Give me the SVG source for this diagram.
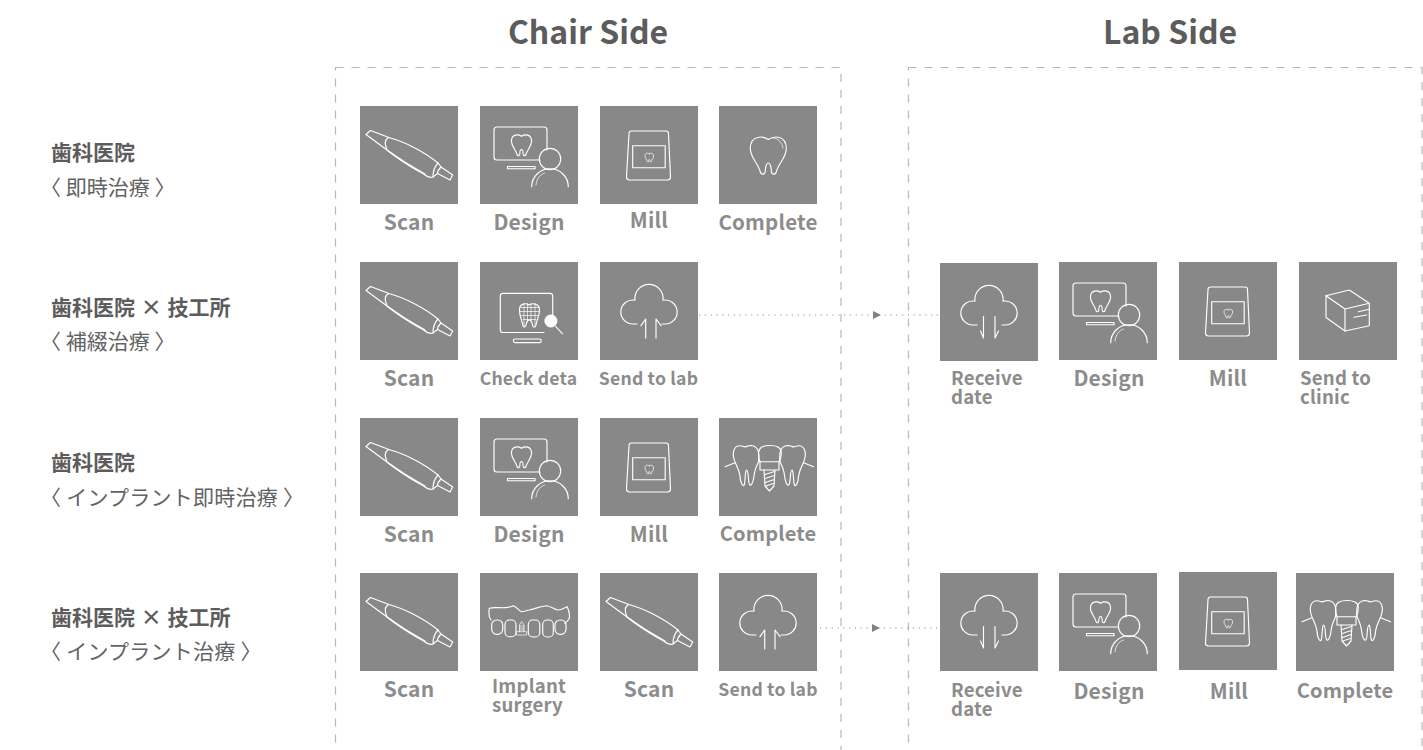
<svg xmlns="http://www.w3.org/2000/svg" width="1423" height="750" viewBox="0 0 1423 750">
<style>
text{font-family:"Noto Sans CJK JP","Noto Sans",sans-serif}
.title{font-size:32px;font-weight:700;fill:#5c5c5c;text-anchor:middle}
.rowb{font-size:21px;font-weight:700;fill:#5c5c5c;word-spacing:1px}
.rowr{font-size:21px;font-weight:400;fill:#636363}
.wide{letter-spacing:.25px}
.l{font-size:21px;font-weight:700;fill:#8c8c8c;text-anchor:middle;letter-spacing:.2px}
.s{font-size:17.6px;font-weight:700;fill:#8c8c8c;text-anchor:middle;letter-spacing:.2px}
.m{font-size:18.6px;font-weight:700;fill:#8c8c8c;letter-spacing:.2px}
.c{font-size:20px;font-weight:700;fill:#8c8c8c;text-anchor:middle;letter-spacing:.2px}
.tile{fill:#888}
.ic{fill:none;stroke:#fff;stroke-width:1.15;stroke-linecap:round;stroke-linejoin:round}
.thin{stroke-width:.7}
.frame{fill:none;stroke:#b8b8b8;stroke-width:1.2;stroke-dasharray:8 8}
.dot{fill:none;stroke:#8c8c8c;stroke-width:1.2;stroke-dasharray:1.2 4.6}
</style>
<defs>
<marker id="tri" markerUnits="userSpaceOnUse" markerWidth="9" markerHeight="9" refX="4" refY="4.5" orient="auto"><path d="M0,.5 L8,4.5 L0,8.5Z" fill="#808080"/></marker>
<path id="tooth" d="M0,-15.500 C-5,-19 -18,-20.500 -18,-6.500 C-18,3 -10,8 -8,17 C-7,20 -3,20 -3,15.500 C-3,10 -1,8 0,8 C1,8 3,10 3,15.500 C3,20 7,20 8,17 C10,8 18,3 18,-6.500 C18,-20.500 5,-19 0,-15.500Z"/>
<g id="i-scan" class="ic">
<path d="M6,28.500 L10.500,24.500 L29,31.500 C46,36 66,47 78,57 L81,61 L92.700,69 L90,74 L77.500,67.500 L73,71 C70,72 66,70 63,67.500 C52,62 34,50 27,44 L6,28.500Z"/>
<path d="M29,31.500 C25,33 24,37 27,44 C38,52 54,62 65,68"/>
<path d="M78,57 C75,60 73,65 73,71 M81,61 C79,63 77.500,65 77.500,67.500"/>
</g>
<g id="i-design" class="ic">
<path d="M60,54 H17 Q14,54 14,51 V24 Q14,21 17,21 H64 Q67,21 67,24 V44"/>
<use href="#tooth" transform="translate(41.500,39) scale(.56)" stroke-width="2"/>
<rect x="27.500" y="60.500" width="27.500" height="2.200"/>
<circle cx="70" cy="53" r="10.700"/>
<path d="M51.700,80.700 A18.300,18 0 0 1 88.300,80.700"/>
<path d="M56,79 C56.500,73 60,68.500 64.500,67" class="thin"/>
</g>
<g id="i-mill" class="ic">
<path d="M31.500,25 H66 Q68.500,25 68.500,27.500 L70.500,71 Q70.500,74 67.500,74 H29.500 Q26.500,74 26.500,71 L29,27.500 Q29,25 31.500,25Z"/>
<rect x="32.700" y="39.700" width="32.500" height="22"/>
<use href="#tooth" transform="translate(49.300,51.500) scale(.24)" stroke-width="3"/>
</g>
<g id="i-tooth" class="ic">
<use href="#tooth" transform="translate(49.300,49)"/>
<path d="M53,32 C57,31.500 63,35 64,42" class="thin"/>
</g>
<g id="i-check" class="ic">
<path d="M64,70.500 H23 Q20.300,70.500 20.300,68 V34 Q20.300,31.400 23,31.400 H70 Q72.700,31.400 72.700,34 V53"/>
<rect x="33.300" y="77" width="28" height="3.600" rx="1.800"/>
<circle cx="70.900" cy="59" r="6.500" fill="#fff" stroke="none"/>
<path d="M75.800,64.700 L82.400,71.600"/>
<path d="M49,43 C46,41 39.500,41 39.500,48 C39.500,55 42,58 43,64 C44,66 46,65 46.500,61 C47,58 48.500,58 49.500,58 C50.500,58 52,60 52.500,63 C53,66 55,66 56,63 C57,57 59.500,54 59.500,48 C59.500,41 52,41 49,43Z"/>
<path d="M40,45.500 H59 M40,49.500 H59 M41,53.500 H58 M43,57.500 H56 M44,41.500 V64 M47.500,41.500 V60 M51,41.500 V60 M55,41.500 V64" class="thin"/>
</g>
<path id="cloud" d="M37,62 H33 A12,12 0 1 1 35,38.200 A14.100,14.100 0 1 1 63,38.200 A12,12 0 1 1 65,62 H62"/>
<g id="i-up" class="ic">
<use href="#cloud"/>
<path d="M45.700,76 V57 L41,63.700 M56,76 V57 L61,63.700"/>
</g>
<g id="i-down" class="ic">
<use href="#cloud"/>
<path d="M43.500,53.500 V75 L40.500,68 M55,53.500 V75 L58.500,68"/>
</g>
<g id="i-box" class="ic">
<path d="M27,33.700 L50.300,28 L70.300,41.300 V63.700 L46,69 L27,55.500Z"/>
<path d="M27,33.700 L46,47 L70.300,41.300 M46,47 V69 M59.300,49.700 L70.300,47.300 M55,55.300 L67.700,53"/>
</g>
<g id="i-implant" class="ic">
<path id="sidetooth" d="M39.500,44 C40.500,36 40,28 32,27.500 C29,27.500 28,28.500 26,29 C24,28.500 22,27 19,28 C14,29.500 14,36 14.500,39 C16,47 20,50 21,58 C21.500,66 24.500,70 25.500,66 C26.500,60 26,53 27.500,52 C29.500,52 29,60 30,65 C31,70 34,66 35,58 C35.500,53 37,49 39.500,44Z M6,48.700 L16,44.700"/>
<use href="#sidetooth" transform="translate(100.600,0) scale(-1,1)"/>
<path d="M41,43.700 C38.500,37 39,31 43,29 C47,27 55,27 59,29 C63,31 63.500,37 60,43.700"/>
<rect x="41" y="43.700" width="19" height="8.300"/>
<path d="M45,52 L46,68 L50.500,73 L55,68 L56,52 M46,56.500 L55.500,53.500 M46,60.500 L55.500,57.500 M46.500,64.500 L55,61.500 M47,68 L54,65.500"/>
</g>
<g id="i-surgery" class="ic">
<path d="M11,47 C8.500,44 8.500,40 9.300,35.300 C16,33 24,37 33.300,32.700 C37,34 39,38 41.700,38.700 C44,38.700 46,37.500 49.300,37 C55,36 60,33 66.700,32.700 C71,33 74,37 78.300,37 C82,37 84,35 87.300,33.700 C89,38 90,42 89.300,45.300 C88.500,47 87,49 85,50.300"/>
<rect x="11.700" y="47" width="11" height="14.300" rx="5"/>
<rect x="25" y="47" width="11" height="16.700" rx="4.500"/>
<rect x="48.300" y="47" width="11.500" height="17" rx="4.500"/>
<rect x="62.700" y="47" width="10.600" height="17" rx="4.500"/>
<rect x="75" y="47" width="11" height="14.300" rx="5"/>
<rect x="36.700" y="58.700" width="10" height="3.300" class="thin"/>
<path d="M39.500,58.700 V52 L41.700,48.500 L44,52 V58.700 M39.500,53 H44 M39.500,55 H44 M39.500,57 H44" class="thin"/>
</g>
</defs>

<g id="headers">
<text class="title" x="588" y="44">Chair Side</text>
<text class="title" x="1170" y="44">Lab Side</text>
</g>
<g id="frames">
<rect class="frame" x="335.500" y="67.500" width="505.500" height="720"/>
<rect class="frame" x="908.500" y="67.500" width="513.500" height="720"/>
</g>

<g id="row-1"><text class="rowb" x="51" y="160">歯科医院</text><text class="rowr" x="40" y="195">〈 即時治療 〉</text></g>
<g id="row-2"><text class="rowb" x="51" y="315">歯科医院 × 技工所</text><text class="rowr" x="40" y="349">〈 補綴治療 〉</text></g>
<g id="row-3"><text class="rowb" x="51" y="470">歯科医院</text><text class="rowr wide" x="40" y="505">〈 インプラント即時治療 〉</text></g>
<g id="row-4"><text class="rowb" x="51" y="625">歯科医院 × 技工所</text><text class="rowr wide" x="40" y="659">〈 インプラント治療 〉</text></g>

<g id="connectors">
<polyline class="dot" points="699,315 877,315 940,315" marker-mid="url(#tri)"/>
<polyline class="dot" points="820,628 876,628 939,628" marker-mid="url(#tri)"/>
</g>

<g id="n1-scan"><rect class="tile" x="360" y="106" width="98" height="98"/><use href="#i-scan" x="360" y="106"/><text class="l" x="409" y="230">Scan</text></g>
<g id="n1-design"><rect class="tile" x="480" y="106" width="98" height="98"/><use href="#i-design" x="480" y="106"/><text class="l" x="529" y="230">Design</text></g>
<g id="n1-mill"><rect class="tile" x="600" y="106" width="98" height="98"/><use href="#i-mill" x="600" y="106"/><text class="l" x="649" y="228">Mill</text></g>
<g id="n1-complete"><rect class="tile" x="719" y="106" width="98" height="98"/><use href="#i-tooth" x="719" y="106"/><text class="l" x="768" y="230" style="font-size:20.500px">Complete</text></g>

<g id="n2-scan"><rect class="tile" x="360" y="262" width="98" height="98"/><use href="#i-scan" x="360" y="262"/><text class="l" x="409" y="386">Scan</text></g>
<g id="n2-check"><rect class="tile" x="480" y="262" width="98" height="98"/><use href="#i-check" x="480" y="262"/><text class="s" x="528.500" y="385">Check deta</text></g>
<g id="n2-send"><rect class="tile" x="600" y="262" width="98" height="98"/><use href="#i-up" x="600" y="262"/><text class="s" x="648.500" y="385">Send to lab</text></g>

<g id="l2-receive"><rect class="tile" x="940" y="263" width="98" height="98"/><use href="#i-down" x="940" y="263"/><text class="m" x="951" y="385">Receive</text><text class="m" x="951" y="404">date</text></g>
<g id="l2-design"><rect class="tile" x="1059" y="262" width="98" height="98"/><use href="#i-design" x="1059" y="262"/><text class="l" x="1109" y="386">Design</text></g>
<g id="l2-mill"><rect class="tile" x="1179" y="262" width="98" height="98"/><use href="#i-mill" x="1179" y="262"/><text class="l" x="1228" y="386">Mill</text></g>
<g id="l2-send"><rect class="tile" x="1299" y="262" width="98" height="98"/><use href="#i-box" x="1299" y="262"/><text class="m" x="1300" y="385">Send to</text><text class="m" x="1300" y="404">clinic</text></g>

<g id="n3-scan"><rect class="tile" x="360" y="418" width="98" height="98"/><use href="#i-scan" x="360" y="418"/><text class="l" x="409" y="542">Scan</text></g>
<g id="n3-design"><rect class="tile" x="480" y="418" width="98" height="98"/><use href="#i-design" x="480" y="418"/><text class="l" x="529" y="542">Design</text></g>
<g id="n3-mill"><rect class="tile" x="600" y="418" width="98" height="98"/><use href="#i-mill" x="600" y="418"/><text class="l" x="649" y="542">Mill</text></g>
<g id="n3-complete"><rect class="tile" x="719" y="418" width="98" height="98"/><use href="#i-implant" x="719" y="418"/><text class="c" x="768" y="541">Complete</text></g>

<g id="n4-scan"><rect class="tile" x="360" y="573" width="98" height="98"/><use href="#i-scan" x="360" y="573"/><text class="l" x="409" y="697">Scan</text></g>
<g id="n4-surgery"><rect class="tile" x="480" y="573" width="98" height="98"/><use href="#i-surgery" x="480" y="573"/><text class="m" x="492" y="693">Implant</text><text class="m" x="492" y="712">surgery</text></g>
<g id="n4-scan2"><rect class="tile" x="600" y="573" width="98" height="98"/><use href="#i-scan" x="600" y="573"/><text class="l" x="649" y="697">Scan</text></g>
<g id="n4-send"><rect class="tile" x="719" y="573" width="98" height="98"/><use href="#i-up" x="719" y="573"/><text class="s" x="768" y="696">Send to lab</text></g>

<g id="l4-receive"><rect class="tile" x="940" y="573" width="98" height="98"/><use href="#i-down" x="940" y="573"/><text class="m" x="951" y="697">Receive</text><text class="m" x="951" y="716">date</text></g>
<g id="l4-design"><rect class="tile" x="1059" y="573" width="98" height="98"/><use href="#i-design" x="1059" y="573"/><text class="l" x="1109" y="699">Design</text></g>
<g id="l4-mill"><rect class="tile" x="1179" y="572" width="98" height="98"/><use href="#i-mill" x="1179" y="572"/><text class="l" x="1229" y="699">Mill</text></g>
<g id="l4-complete"><rect class="tile" x="1296" y="573" width="98" height="98"/><use href="#i-implant" x="1296" y="573"/><text class="c" x="1345" y="697.500">Complete</text></g>
</svg>
